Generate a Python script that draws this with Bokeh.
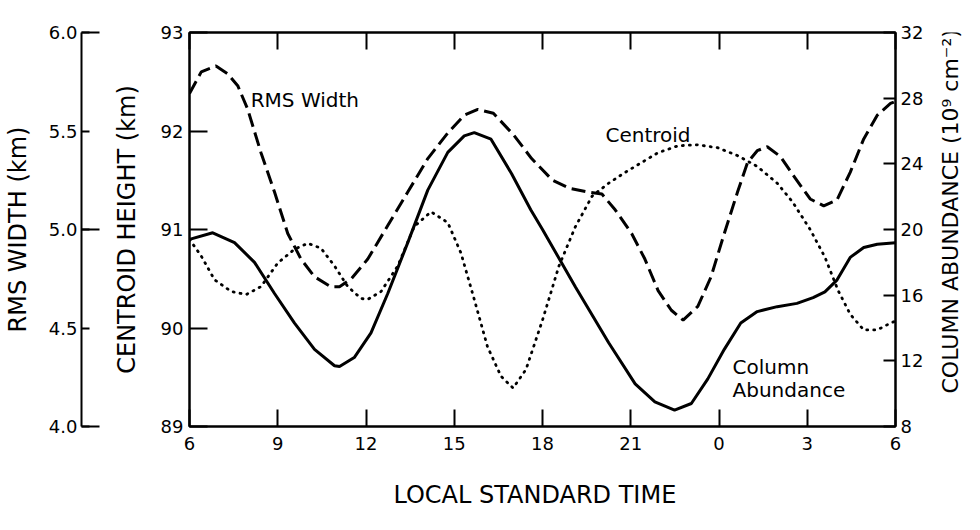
import math
from bokeh.plotting import figure
from bokeh.models import Range1d, LinearAxis, FixedTicker, Label
from bokeh.layouts import row
from bokeh.embed import file_html
from bokeh.resources import INLINE
from bokeh.core.validation import silence
from bokeh.core.validation.warnings import MISSING_RENDERERS

silence(MISSING_RENDERERS, True)

# ---------------- data ----------------
hours_rms = [6.0, 6.4, 6.9, 7.3, 7.64, 7.98, 8.43, 8.89, 9.34, 9.79, 10.25, 10.8, 11.1,
             11.5, 12.06, 12.74, 13.42, 14.1, 14.78, 15.34, 15.8, 16.33, 17.02, 17.63,
             18.34, 18.9, 19.57, 20.02, 20.47, 21.03, 21.48, 21.93, 22.38, 22.78, 23.28,
             23.73, 24.18, 24.63, 24.97, 25.3, 25.64, 26.09, 26.5, 27.1, 27.56, 28.01,
             28.46, 28.92, 29.38, 29.83, 30.0]
rms_width = [5.69, 5.80, 5.83, 5.79, 5.73, 5.61, 5.39, 5.19, 4.98, 4.85, 4.76, 4.71, 4.71,
             4.75, 4.85, 5.02, 5.19, 5.36, 5.49, 5.58, 5.61, 5.59, 5.48, 5.36,
             5.25, 5.21, 5.19, 5.18, 5.10, 4.98, 4.85, 4.69, 4.59, 4.54, 4.61,
             4.76, 4.98, 5.19, 5.34, 5.40, 5.42, 5.37, 5.28, 5.155, 5.12, 5.15,
             5.29, 5.46, 5.58, 5.64, 5.65]

hours_col = [6.0, 6.79, 7.53, 8.21, 8.89, 9.57, 10.25, 10.93, 11.1, 11.6, 12.17, 12.74,
             13.42, 14.1, 14.78, 15.34, 15.68, 16.25, 16.95, 17.6, 18.0, 19.12, 20.25,
             21.15, 21.82, 22.49, 23.06, 23.62, 24.18, 24.74, 25.3, 25.98, 26.65, 27.2,
             27.6, 28.0, 28.46, 28.92, 29.38, 30.0]
column_abundance = [19.4, 19.8, 19.2, 18.0, 16.1, 14.3, 12.7, 11.7, 11.65, 12.2, 13.7, 16.1,
                    19.2, 22.4, 24.7, 25.7, 25.9, 25.5, 23.4, 21.2, 20.0, 16.5, 13.1,
                    10.6, 9.5, 9.0, 9.4, 10.9, 12.7, 14.3, 15.0, 15.3, 15.5, 15.85,
                    16.2, 16.9, 18.3, 18.9, 19.1, 19.2]

hours_cen = [6.0, 6.4, 6.85, 7.42, 7.93, 8.43, 9.0, 9.57, 10.02, 10.47, 10.93, 11.38, 11.83,
             12.06, 12.51, 13.08, 13.64, 14.21, 14.78, 15.23, 15.68, 16.13, 16.59, 17.0,
             17.44, 18.0, 18.56, 19.12, 19.69, 20.25, 20.81, 21.37, 21.93, 22.61, 23.28,
             23.96, 24.63, 25.3, 25.98, 26.5, 27.1, 27.6, 28.05, 28.46, 28.92, 29.38,
             29.83, 30.0]
centroid_height = [90.90, 90.73, 90.49, 90.37, 90.34, 90.42, 90.66, 90.80, 90.86, 90.81, 90.63,
                   90.42, 90.30, 90.29, 90.37, 90.63, 91.03, 91.18, 91.07, 90.76, 90.29,
                   89.81, 89.51, 89.39, 89.58, 90.08, 90.63, 91.03, 91.34, 91.47, 91.58,
                   91.68, 91.78, 91.85, 91.86, 91.83, 91.75, 91.64, 91.47, 91.28, 91.0,
                   90.72, 90.38, 90.14, 89.98, 89.98, 90.05, 90.07]

x_ticks = [6, 9, 12, 15, 18, 21, 24, 27, 30]
x_tick_labels = ["6", "9", "12", "15", "18", "21", "0", "3", "6"]
centroid_ticks = [89, 90, 91, 92, 93]
rms_ticks = [4.0, 4.5, 5.0, 5.5, 6.0]
rms_long_ticks = [4.0, 5.0, 6.0]
rms_tick_labels = ["4.0", "4.5", "5.0", "5.5", "6.0"]
col_ticks = [8, 12, 16, 20, 24, 28, 32]

FONT = "DejaVu Sans"
TICK_FS = "18px"
TITLE_FS = "24px"


def style_axis(ax, tick_in, standoff):
    ax.axis_line_color = "black"
    ax.axis_line_width = 2
    ax.major_tick_line_color = "black"
    ax.major_tick_line_width = 2
    ax.major_tick_in = tick_in
    ax.major_tick_out = 0
    ax.minor_tick_line_color = None
    ax.major_label_text_font = FONT
    ax.major_label_text_font_size = TICK_FS
    ax.major_label_text_color = "black"
    ax.major_label_standoff = standoff
    ax.axis_label_text_font = FONT
    ax.axis_label_text_font_size = TITLE_FS
    ax.axis_label_text_font_style = "normal"
    ax.axis_label_text_color = "black"


def clean(fig):
    fig.grid.visible = False
    fig.background_fill_color = "white"
    fig.border_fill_color = "white"


# ---------------- left-most figure: RMS width axis ----------------
q = figure(width=108, height=514, output_backend="svg", toolbar_location=None,
           x_range=Range1d(0, 1), y_range=Range1d(4, 6), x_axis_location=None,
           min_border_left=78, min_border_right=0, min_border_top=32, min_border_bottom=88)
clean(q)
q.outline_line_color = None
qa = q.yaxis[0]
style_axis(qa, 8, 4)
qa.ticker = FixedTicker(ticks=rms_ticks, minor_ticks=rms_long_ticks)
qa.major_label_overrides = {t: l for t, l in zip(rms_ticks, rms_tick_labels)}
qa.minor_tick_line_color = "black"
qa.minor_tick_line_width = 2
qa.minor_tick_in = 18
qa.minor_tick_out = 0
qa.axis_label = "RMS WIDTH (km)"
qa.axis_label_standoff = 14

# ---------------- main figure ----------------
p = figure(width=824, height=514, output_backend="svg", toolbar_location=None,
           x_range=Range1d(6, 30), y_range=Range1d(89, 93),
           min_border_left=81, min_border_right=37, min_border_top=32, min_border_bottom=88)
p.extra_y_ranges = {"rms": Range1d(4, 6), "col": Range1d(8, 32)}
clean(p)
p.outline_line_color = "black"
p.outline_line_width = 2

xa = p.xaxis[0]
style_axis(xa, 17, 10)
xa.ticker = FixedTicker(ticks=x_ticks)
xa.major_label_overrides = {t: l for t, l in zip(x_ticks, x_tick_labels)}
xa.axis_label = "LOCAL  STANDARD  TIME"
xa.axis_label_standoff = 28

ya = p.yaxis[0]
style_axis(ya, 18, 6)
ya.ticker = FixedTicker(ticks=centroid_ticks)
ya.axis_label = "CENTROID HEIGHT (km)"
ya.axis_label_standoff = 17

top = LinearAxis()
style_axis(top, 17, 0)
top.ticker = FixedTicker(ticks=x_ticks)
top.major_label_text_font_size = "0px"
top.major_label_text_alpha = 0
p.add_layout(top, "above")

ra = LinearAxis(y_range_name="col")
style_axis(ra, 12, 5)
ra.ticker = FixedTicker(ticks=col_ticks)
p.add_layout(ra, "right")

p.line(hours_rms, rms_width, y_range_name="rms", line_color="black", line_width=3,
       line_dash="14 6")
p.line(hours_col, column_abundance, y_range_name="col", line_color="black", line_width=3)
p.line(hours_cen, centroid_height, line_color="black", line_width=2.8, line_dash="1 6",
       line_cap="round")

for txt, lx, ly in [("RMS Width", 8.08, 92.31), ("Centroid", 20.14, 91.96),
                    ("Column", 24.46, 89.60), ("Abundance", 24.46, 89.37)]:
    p.add_layout(Label(x=lx, y=ly, text=txt, text_font=FONT, text_font_size="20px",
                       text_color="black", text_baseline="alphabetic", text_align="left"))

# ---------------- right strip: column-abundance title, reading bottom-to-top ----------------
r = figure(width=32, height=514, output_backend="svg", toolbar_location=None,
           x_range=Range1d(0, 1), y_range=Range1d(0, 1),
           x_axis_location=None, y_axis_location=None,
           min_border_left=0, min_border_right=0, min_border_top=0, min_border_bottom=0)
clean(r)
r.outline_line_color = None
r.add_layout(Label(x=0.55, y=0.555, text="COLUMN  ABUNDANCE (10⁹ cm⁻²)",
                   angle=math.pi / 2, text_font=FONT, text_font_size="22px",
                   text_color="black", text_align="center", text_baseline="middle"))

layout = row(q, p, r)
open("out.html", "w").write(file_html(layout, INLINE))
